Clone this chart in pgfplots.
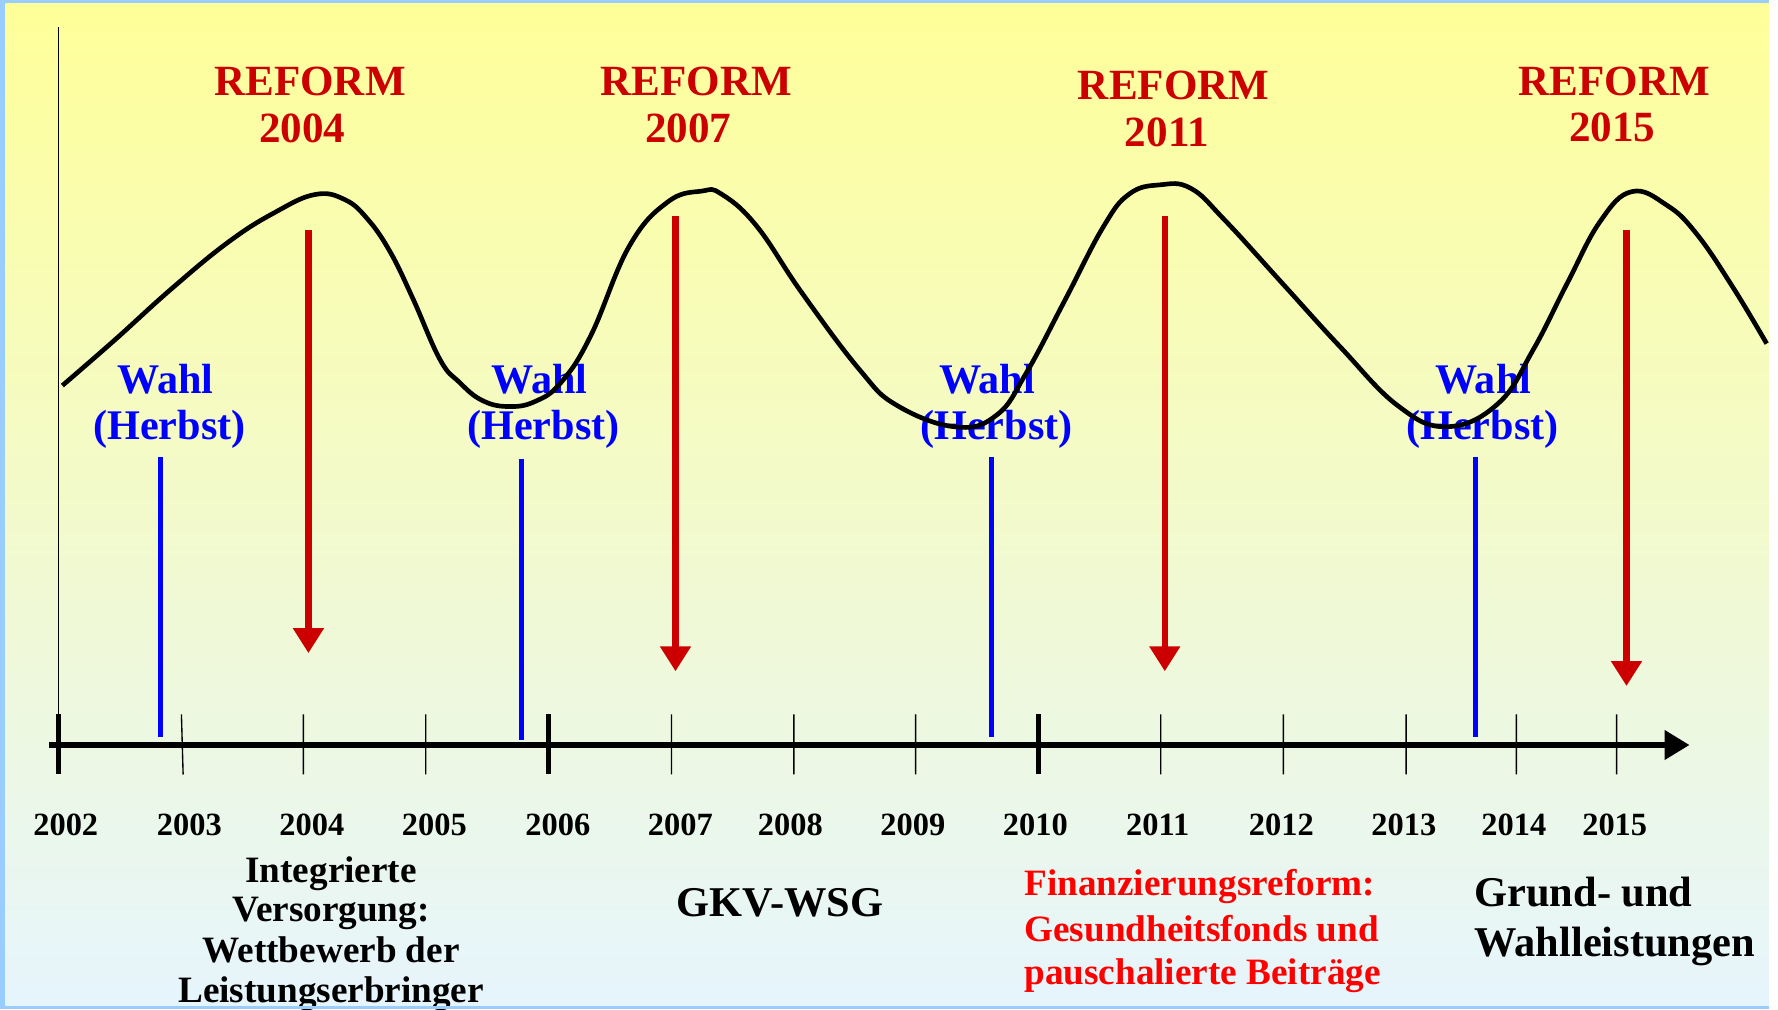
\documentclass[border=0pt]{standalone}
\usepackage{pgfplots}
\pgfplotsset{compat=1.18}
\usepackage{fontspec}
\setmainfont{Liberation Serif}
\usetikzlibrary{arrows.meta}
\definecolor{frameblue}{RGB}{153,204,255}
\definecolor{bgtop}{RGB}{255,255,153}
\definecolor{bgbot}{RGB}{230,245,253}
\definecolor{darkred}{RGB}{204,0,0}
\definecolor{wahlblue}{RGB}{0,0,255}
\definecolor{brightred}{RGB}{255,0,0}
\newcommand{\fs}[1]{\bfseries\fontsize{#1}{#1}\selectfont}
\begin{document}
\begin{tikzpicture}
\useasboundingbox (0,0) rectangle (784pt,445pt);
\clip (0,0) rectangle (784pt,445pt);
\fill[white] (0,0) rectangle (784pt,445pt);
\fill[frameblue] (0,0) rectangle (780pt,445pt);
\shade[top color=bgtop, bottom color=bgbot] (2.5pt,1.5pt) rectangle (780pt,443.5pt);
\begin{axis}[
  at={(0,0)}, anchor=south west,
  width=784pt, height=445pt, scale only axis,
  xmin=0, xmax=1568, ymin=0, ymax=890, y dir=reverse,
  hide axis, clip=false,
  unbounded coords=jump]
% vertical axis line
\addplot[black, line width=0.7pt] coordinates {(51.5,24) (51.5,657)};
% minor ticks
\addplot[black, line width=0.6pt] coordinates {
 (160,630) (161.5,683) (nan,nan)
 (267.5,630) (267.5,683) (nan,nan)
 (375.4,630) (375.4,683) (nan,nan)
 (592.2,630) (592.2,683) (nan,nan)
 (700.1,630) (700.1,683) (nan,nan)
 (807.5,630) (807.5,683) (nan,nan)
 (1023.7,630) (1023.7,683) (nan,nan)
 (1131.8,630) (1131.8,683) (nan,nan)
 (1240,630) (1240,683) (nan,nan)
 (1337.3,630) (1337.3,683) (nan,nan)
 (1425.7,630) (1425.7,683)};
% major ticks
\addplot[black, line width=2pt] coordinates {
 (51.5,630) (51.5,683) (nan,nan)
 (483.8,630) (483.8,683) (nan,nan)
 (915.6,630) (915.6,683)};
% timeline
\addplot[black, line width=2.65pt, -{Triangle[length=11pt,width=12.5pt]}] coordinates {(43,657) (1490,657)};
% year labels
\node[anchor=base, inner sep=0, font=\fs{14.3}] at (axis cs:58,737) {2002};
\node[anchor=base, inner sep=0, font=\fs{14.3}] at (axis cs:167,737) {2003};
\node[anchor=base, inner sep=0, font=\fs{14.3}] at (axis cs:275,737) {2004};
\node[anchor=base, inner sep=0, font=\fs{14.3}] at (axis cs:383,737) {2005};
\node[anchor=base, inner sep=0, font=\fs{14.3}] at (axis cs:492,737) {2006};
\node[anchor=base, inner sep=0, font=\fs{14.3}] at (axis cs:600,737) {2007};
\node[anchor=base, inner sep=0, font=\fs{14.3}] at (axis cs:697,737) {2008};
\node[anchor=base, inner sep=0, font=\fs{14.3}] at (axis cs:805,737) {2009};
\node[anchor=base, inner sep=0, font=\fs{14.3}] at (axis cs:913,737) {2010};
\node[anchor=base, inner sep=0, font=\fs{14.3}] at (axis cs:1021,737) {2011};
\node[anchor=base, inner sep=0, font=\fs{14.3}] at (axis cs:1130,737) {2012};
\node[anchor=base, inner sep=0, font=\fs{14.3}] at (axis cs:1238,737) {2013};
\node[anchor=base, inner sep=0, font=\fs{14.3}] at (axis cs:1335,737) {2014};
\node[anchor=base, inner sep=0, font=\fs{14.3}] at (axis cs:1424,737) {2015};
% blue election lines
\addplot[wahlblue, line width=2pt] coordinates {
 (141.7,403) (141.7,650) (nan,nan)
 (460,405) (460,652.5) (nan,nan)
 (874.6,403) (874.6,650) (nan,nan)
 (1301,403) (1301,650)};
% red reform arrows
\addplot[darkred, line width=2.8pt, -{Triangle[length=11pt,width=13pt]}] coordinates {(272,203) (272,576)};
\addplot[darkred, line width=2.8pt, -{Triangle[length=11pt,width=13pt]}] coordinates {(595.7,190.5) (595.7,592)};
\addplot[darkred, line width=2.8pt, -{Triangle[length=11pt,width=13pt]}] coordinates {(1027.2,190.5) (1027.2,592)};
\addplot[darkred, line width=2.8pt, -{Triangle[length=11pt,width=13pt]}] coordinates {(1434.4,203) (1434.4,605)};
% REFORM labels
\node[anchor=base, inner sep=0, text=darkred, font=\fs{19}] at (axis cs:273.4,84.4) {REFORM};
\node[anchor=base, inner sep=0, text=darkred, font=\fs{19}] at (axis cs:266.6,125.5) {2004};
\node[anchor=base, inner sep=0, text=darkred, font=\fs{19}] at (axis cs:614,84.4) {REFORM};
\node[anchor=base, inner sep=0, text=darkred, font=\fs{19}] at (axis cs:607,125.5) {2007};
\node[anchor=base, inner sep=0, text=darkred, font=\fs{19}] at (axis cs:1035,87.5) {REFORM};
\node[anchor=base, inner sep=0, text=darkred, font=\fs{19}] at (axis cs:1029,129) {2011};
\node[anchor=base, inner sep=0, text=darkred, font=\fs{19}] at (axis cs:1423.4,84.4) {REFORM};
\node[anchor=base, inner sep=0, text=darkred, font=\fs{19}] at (axis cs:1421.8,125) {2015};
% Wahl labels
\node[anchor=base, inner sep=0, text=wahlblue, font=\fs{18.6}] at (axis cs:146,346.8) {Wahl};
\node[anchor=base, inner sep=0, text=wahlblue, font=\fs{18.6}] at (axis cs:149.4,388) {(Herbst)};
\node[anchor=base, inner sep=0, text=wahlblue, font=\fs{18.6}] at (axis cs:475.8,346.8) {Wahl};
\node[anchor=base, inner sep=0, text=wahlblue, font=\fs{18.6}] at (axis cs:479.3,388) {(Herbst)};
\node[anchor=base, inner sep=0, text=wahlblue, font=\fs{18.6}] at (axis cs:870.5,346.8) {Wahl};
\node[anchor=base, inner sep=0, text=wahlblue, font=\fs{18.6}] at (axis cs:878.8,388) {(Herbst)};
\node[anchor=base, inner sep=0, text=wahlblue, font=\fs{18.6}] at (axis cs:1308,346.8) {Wahl};
\node[anchor=base, inner sep=0, text=wahlblue, font=\fs{18.6}] at (axis cs:1307.3,388) {(Herbst)};
% wave
\addplot[black, line width=2.05pt, smooth, tension=0.7] coordinates {
 (55,340) (101,300) (152,254) (202,213) (243,187) (278,171.5) (304,176)
 (324,193) (344,222) (364,263) (388,317) (405,337) (425,353) (448,358.5)
 (472,354) (495,337) (521,296) (555,217) (589,178) (619,168.5) (636,171)
 (667,199) (707,258) (758,326) (791,357.5) (843,376.5) (879,366) (905,329)
 (939,265) (973,200) (996,171) (1023,163) (1050,166) (1080,194) (1131,250)
 (1182,306) (1233,358) (1276,376.3) (1321,356) (1352,308.6) (1382,250)
 (1411,195.5) (1439,169) (1470,181) (1496,206) (1528,253) (1558,303)};
% bottom texts
\node[anchor=base, inner sep=0, font=\fs{16.4}] at (axis cs:292,778) {Integrierte};
\node[anchor=base, inner sep=0, font=\fs{16.4}] at (axis cs:292,813) {Versorgung:};
\node[anchor=base, inner sep=0, font=\fs{16.4}] at (axis cs:292,849) {Wettbewerb der};
\node[anchor=base, inner sep=0, font=\fs{16.4}] at (axis cs:292,884) {Leistungserbringer};
\node[anchor=base, inner sep=0, font=\fs{18.7}] at (axis cs:688,808) {GKV-WSG};
\node[anchor=base west, inner sep=0, text=brightred, font=\fs{16.4}] at (axis cs:903,790) {Finanzierungsreform:};
\node[anchor=base west, inner sep=0, text=brightred, font=\fs{16.4}] at (axis cs:903,830) {Gesundheitsfonds und};
\node[anchor=base west, inner sep=0, text=brightred, font=\fs{16.4}] at (axis cs:903,868) {pauschalierte Beiträge};
\node[anchor=base west, inner sep=0, font=\fs{18.7}] at (axis cs:1300,799.5) {Grund- und};
\node[anchor=base west, inner sep=0, font=\fs{18.7}] at (axis cs:1300,843.6) {Wahlleistungen};
\end{axis}
\fill[frameblue] (0,0) rectangle (780pt,1.5pt);
\end{tikzpicture}
\end{document}
